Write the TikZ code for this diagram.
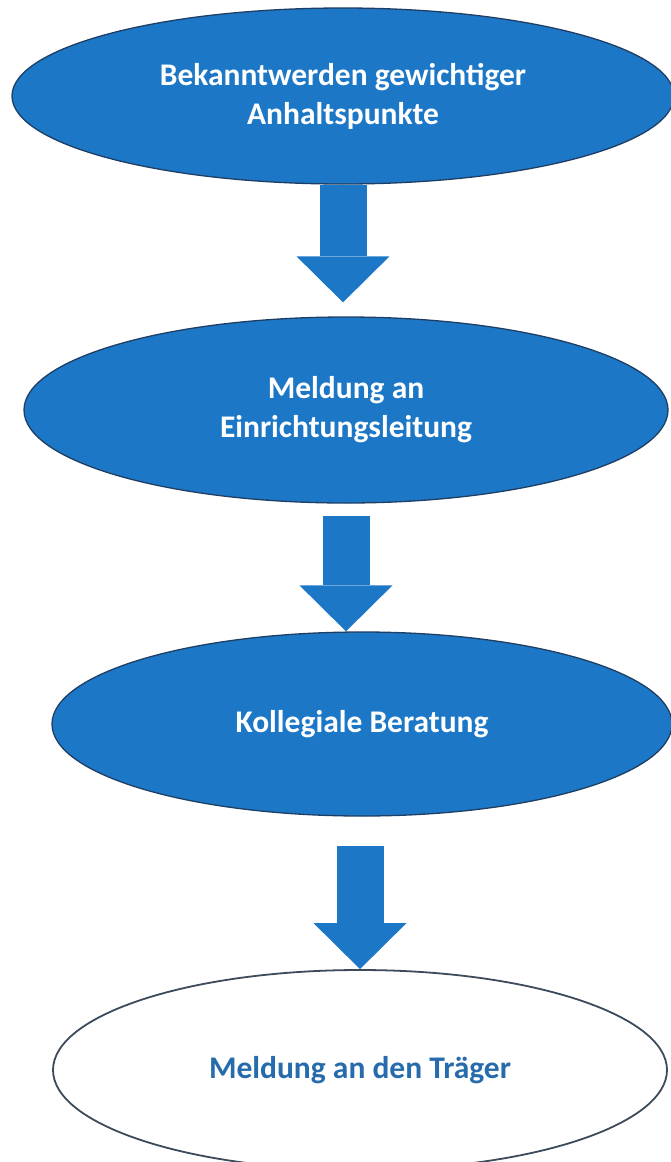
\documentclass[tikz,border=0pt]{standalone}
\usepackage{fontspec}
\setmainfont{Carlito}
\usetikzlibrary{shapes.geometric,arrows.meta,calc}
\definecolor{stageblue}{RGB}{28,120,198}
\definecolor{stageline}{RGB}{30,62,100}
\definecolor{lastblue}{RGB}{38,108,172}
\definecolor{lastline}{RGB}{60,74,90}

\begin{document}
\begin{tikzpicture}[x=1pt, y=-1pt,
    stage/.style={ellipse, draw=stageline, line width=1.3pt, fill=stageblue,
      text=white, inner sep=0pt, align=center,
      font=\bfseries\fontsize{31.5}{39}\selectfont},
    laststage/.style={stage, fill=white, draw=lastline, line width=1.8pt, text=lastblue},
    blockarrow/.style={stageblue, line width=47pt,
      -{Triangle[width=93pt, length=46pt, line width=0pt, fill=stageblue]}}]
  \useasboundingbox (0,0) rectangle (670,1162);
  \node[stage, minimum width=662pt, minimum height=176pt] (anhalt) at (343,96)
	{Bekanntwerden gewichtiger\\Anhaltspunkte};
  \node[stage, minimum width=644pt, minimum height=186pt] (leitung) at (346,410)
	{Meldung an\\Einrichtungsleitung};
  \node[stage, minimum width=620pt, minimum height=184pt] (beratung) at (362,724)
	{Kollegiale Beratung};
  \node[laststage, minimum width=614pt, minimum height=200pt] (traeger) at (360,1070)
	{Meldung an den Träger};
  % block arrows between the stages
  \draw[blockarrow] (anhalt.south) -- ($(anhalt.south |- leitung.north)+(0,-14)$);
  \draw[blockarrow] ($(leitung.south)+(0,12)$) -- (leitung.south |- beratung.north);
  \draw[blockarrow] ($(beratung.south)+(-2,29)$) -- ($(beratung.south |- traeger.north)+(-2,0)$);
\end{tikzpicture}
\end{document}
